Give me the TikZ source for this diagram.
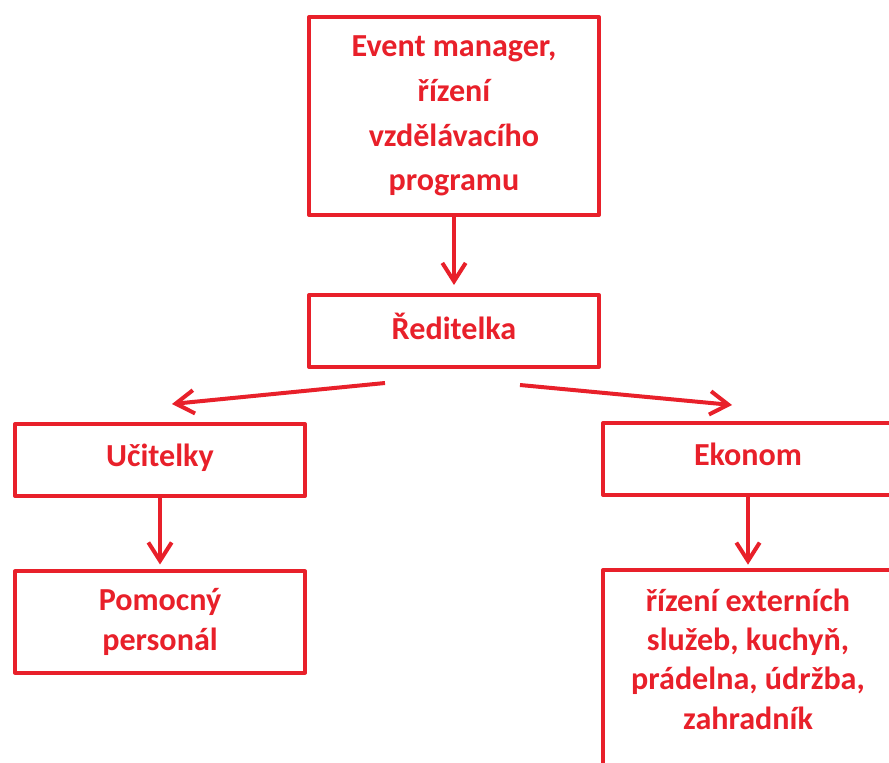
\documentclass[tikz,border=0pt]{standalone}
\usepackage{fontspec}
\setmainfont{Carlito}
\usetikzlibrary{arrows.meta}
\definecolor{orgred}{RGB}{232,32,42}
\tikzstyle{box}=[rectangle, draw=orgred, line width=0.12cm, line join=round, text=orgred, font=\fontsize{27.4}{33.6}\selectfont\bfseries, align=center, minimum width=8.7cm, inner sep=0pt]
\tikzstyle{onerow}=[minimum height=2.16cm, text depth=0.3cm]
\tikzstyle{link}=[-{Straight Barb[length=0.55cm,width=0.7cm]}, line width=0.12cm, draw=orgred]

\begin{document}
\begin{tikzpicture}[x=0.03cm,y=-0.03cm]
  \useasboundingbox (0,0) rectangle (889,763);
  \clip (0,0) rectangle (889,763);
  \draw (454,116) node[box,minimum height=5.94cm,font=\fontsize{27.4}{38.2}\selectfont\bfseries] (event) {Event manager,\\řízení\\vzdělávacího\\programu};
  \draw (454,331) node[box,onerow] (boss) {Ředitelka};

  \draw (160,460) node[box,onerow] (teach) {Učitelky};
  \draw (160,622) node[box,minimum height=3.03cm] (staff) {Pomocný\\personál};

  \draw (748,459) node[box,onerow] (econ) {Ekonom};
  \draw (748,568) node[box,anchor=north,inner ysep=0.56cm,text depth=3cm] (extern) {řízení externích\\služeb, kuchyň,\\prádelna, údržba,\\zahradník};

  \coordinate (bossL) at (385,383);
  \coordinate (teachT) at (172,404);
  \coordinate (bossR) at (520,385);
  \coordinate (econT) at (732,405);

  \draw[link,shorten >=0.24cm] (event) -- (boss);
  \draw[link] (bossL) -- (teachT);
  \draw[link] (bossR) -- (econT);
  \draw[link,shorten >=0.15cm] (teach) -- (staff);
  \draw[link,shorten >=0.1cm] (econ) -- (extern);
\end{tikzpicture}
\end{document}
